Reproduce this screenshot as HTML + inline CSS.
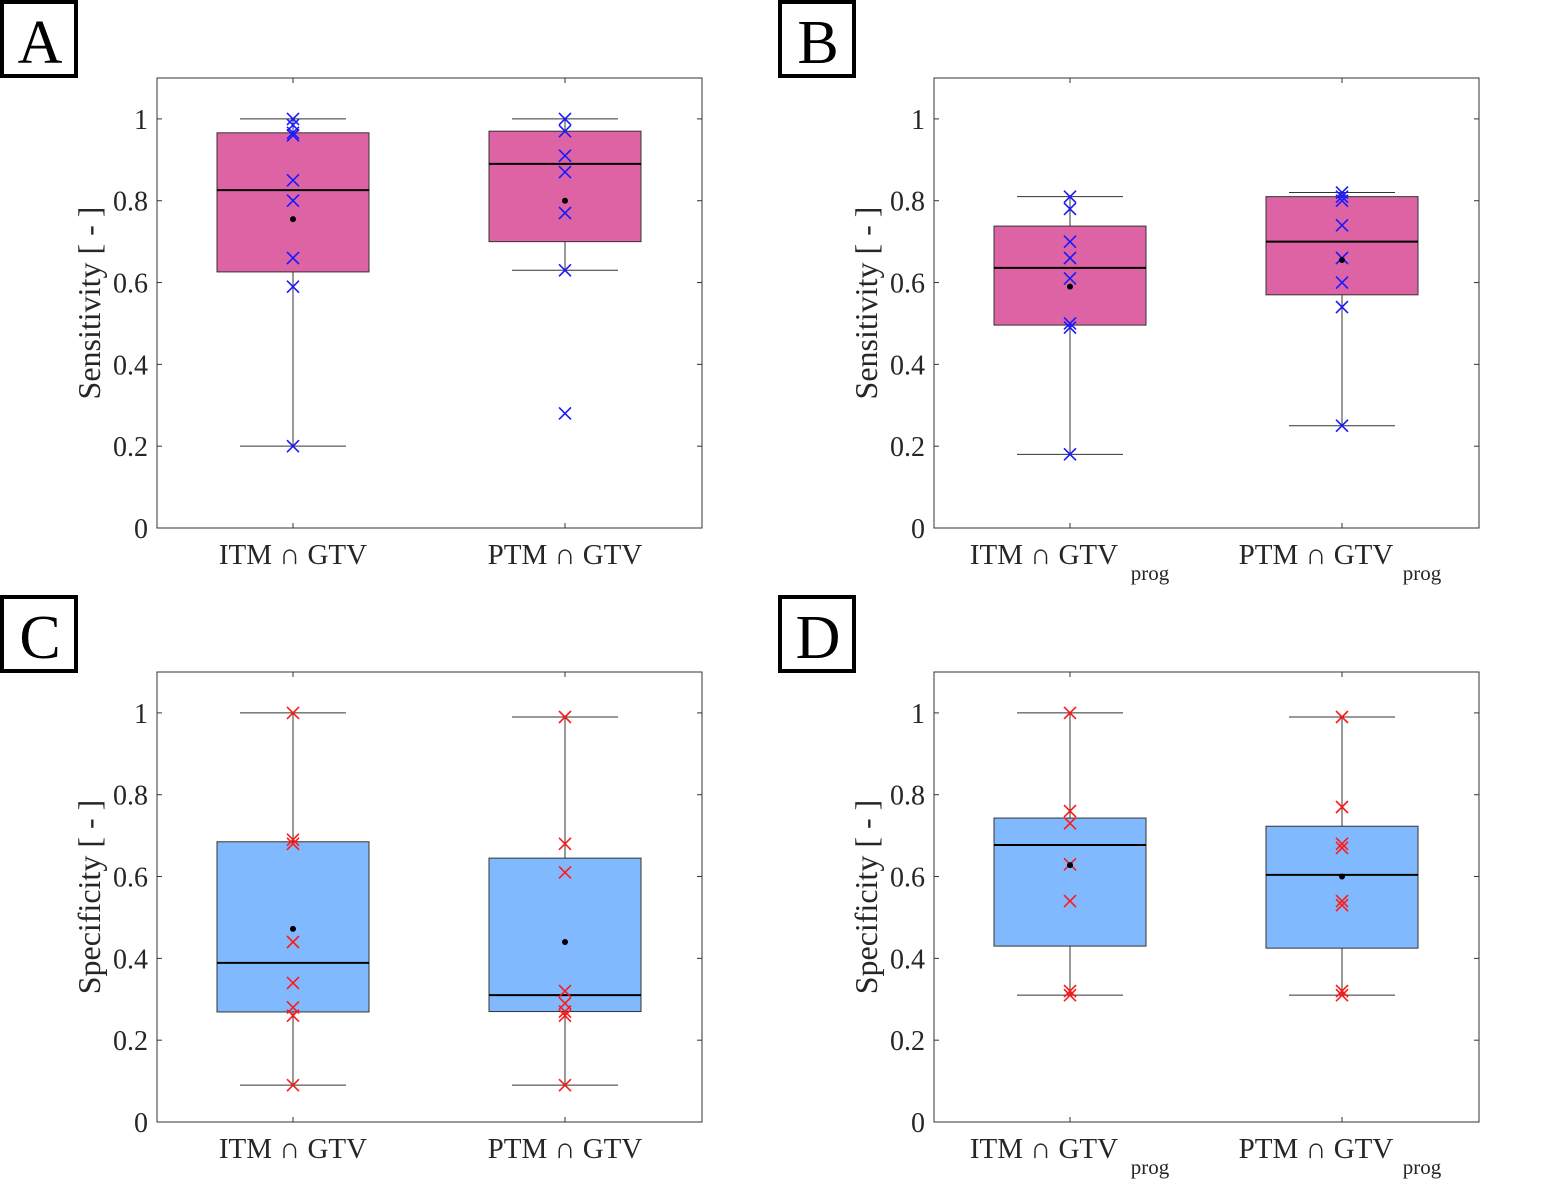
<!DOCTYPE html>
<html><head><meta charset="utf-8"><style>
body{margin:0;background:#fff}
svg{display:block;font-family:"Liberation Serif",serif}
</style></head><body>
<svg id="fig" width="1547" height="1184"></svg>
<script>
const categoriesAC = ["ITM ∩ GTV","PTM ∩ GTV"];
const categoriesBD = ["ITM ∩ GTV","PTM ∩ GTV"];
const yTicks = [0,0.2,0.4,0.6,0.8,1];
const yTickLabels = ["0","0.2","0.4","0.6","0.8","1"];
// stats: [whiskerLow, q1, median, q3, whiskerHigh, mean]
const statsA = [[0.2,0.626,0.826,0.966,1.0,0.755],[0.63,0.70,0.89,0.97,1.0,0.80]];
const pointsA = [[1.0,0.985,0.966,0.96,0.85,0.80,0.66,0.59,0.2],[1.0,0.97,0.91,0.87,0.77,0.63,0.28]];
const statsB = [[0.18,0.496,0.636,0.738,0.81,0.59],[0.25,0.57,0.70,0.81,0.82,0.655]];
const pointsB = [[0.81,0.78,0.70,0.66,0.61,0.50,0.49,0.18],[0.82,0.81,0.80,0.74,0.66,0.60,0.54,0.25]];
const statsC = [[0.09,0.269,0.389,0.685,1.0,0.472],[0.09,0.27,0.31,0.645,0.99,0.44]];
const pointsC = [[1.0,0.69,0.68,0.44,0.34,0.28,0.26,0.09],[0.99,0.68,0.61,0.32,0.29,0.27,0.26,0.09]];
const statsD = [[0.31,0.43,0.677,0.743,1.0,0.628],[0.31,0.425,0.604,0.723,0.99,0.60]];
const pointsD = [[1.0,0.76,0.73,0.63,0.54,0.32,0.31],[0.99,0.77,0.68,0.67,0.54,0.53,0.32,0.31]];

const NS="http://www.w3.org/2000/svg";
const svg=document.getElementById('fig');
function mk(tag,attrs,parent,name){const e=document.createElementNS(NS,tag);for(const k in attrs)e.setAttribute(k,attrs[k]);


(parent||svg).appendChild(e);return e;}

function panel(cfg){
  const g=mk('g',{},svg,'panel-'+cfg.letter.toLowerCase());
  const L=cfg.x0,R=cfg.x0+545,T=cfg.y0,B=cfg.y0+450;
  const yS=v=>B-v/1.1*450;
  const xs=[L+136,L+408];
  const xS=i=>xs[i];
  mk('rect',{x:cfg.lx+2,y:cfg.ly+2,width:74,height:74,fill:'#fff',stroke:'#000','stroke-width':4},g,'panel-label-box');
  const lt=mk('text',{x:cfg.lx+40,y:cfg.ly+63,'font-size':62,'text-anchor':'middle'},g,'panel-label');lt.textContent=cfg.letter;
  mk('rect',{x:L,y:T,width:545,height:450,fill:'#fff',stroke:'#333','stroke-width':1},g,'plot-area');
  yTicks.forEach((v,i)=>{const y=yS(v);
    mk('line',{x1:L,x2:L+5,y1:y,y2:y,stroke:'#333'},g,'y-tick');
    mk('line',{x1:R-5,x2:R,y1:y,y2:y,stroke:'#333'},g,'y-tick-right');
    const t=mk('text',{x:L-9,y:y+10,'font-size':28,'text-anchor':'end',fill:'#262626'},g,'y-tick-label');t.textContent=yTickLabels[i];});
  const yl=mk('text',{x:0,y:0,'font-size':32,'text-anchor':'middle',fill:'#262626',transform:`translate(${L-57},${(T+B)/2}) rotate(-90)`},g,'y-axis-title');yl.textContent=cfg.ylabel;
  cfg.cats.forEach((c,i)=>{const x=xS(i);
    mk('line',{x1:x,x2:x,y1:B,y2:B-5,stroke:'#333'},g,'x-tick');
    mk('line',{x1:x,x2:x,y1:T,y2:T+5,stroke:'#333'},g,'x-tick-top');
    const t=mk('text',{x:cfg.sub?x-26:x,y:B+36,'font-size':29,'text-anchor':'middle',fill:'#262626'},g,'x-tick-label');t.textContent=c;
    if(cfg.sub){const s=mk('text',{x:x+80,y:B+52,'font-size':21,'text-anchor':'middle',fill:'#262626'},g,'x-tick-subscript');s.textContent='prog';}
  });
  cfg.stats.forEach((s,i)=>{const x=xS(i);
    mk('line',{x1:x,x2:x,y1:yS(s[0]),y2:yS(s[4]),stroke:'#333','stroke-width':1},g,'whisker');
    mk('line',{x1:x-53,x2:x+53,y1:yS(s[0]),y2:yS(s[0]),stroke:'#333'},g,'whisker-cap-low');
    mk('line',{x1:x-53,x2:x+53,y1:yS(s[4]),y2:yS(s[4]),stroke:'#333'},g,'whisker-cap-high');
    mk('rect',{x:x-76,y:yS(s[3]),width:152,height:yS(s[1])-yS(s[3]),fill:cfg.fill,stroke:'#333'},g,'box-'+i);
    mk('line',{x1:x-76,x2:x+76,y1:yS(s[2]),y2:yS(s[2]),stroke:'#000','stroke-width':2},g,'median-line');
    cfg.points[i].forEach(p=>{const y=yS(p);
      mk('path',{d:`M${x-6},${y-6}L${x+6},${y+6}M${x-6},${y+6}L${x+6},${y-6}`,stroke:cfg.mc,'stroke-width':1.6},g,'data-point');});
    mk('circle',{cx:x,cy:yS(s[5]),r:3,fill:'#000'},g,'mean-marker');
  });
}
panel({letter:'A',lx:0,ly:0,x0:157,y0:78,ylabel:'Sensitivity [ - ]',cats:categoriesAC,stats:statsA,points:pointsA,fill:'#dd63a5',mc:'#1a1aff',sub:false});
panel({letter:'B',lx:778,ly:0,x0:934,y0:78,ylabel:'Sensitivity [ - ]',cats:categoriesBD,stats:statsB,points:pointsB,fill:'#dd63a5',mc:'#1a1aff',sub:true});
panel({letter:'C',lx:0,ly:595,x0:157,y0:672,ylabel:'Specificity [ - ]',cats:categoriesAC,stats:statsC,points:pointsC,fill:'#80b9fe',mc:'#ff1a1a',sub:false});
panel({letter:'D',lx:778,ly:595,x0:934,y0:672,ylabel:'Specificity [ - ]',cats:categoriesBD,stats:statsD,points:pointsD,fill:'#80b9fe',mc:'#ff1a1a',sub:true});
</script>
</body></html>
